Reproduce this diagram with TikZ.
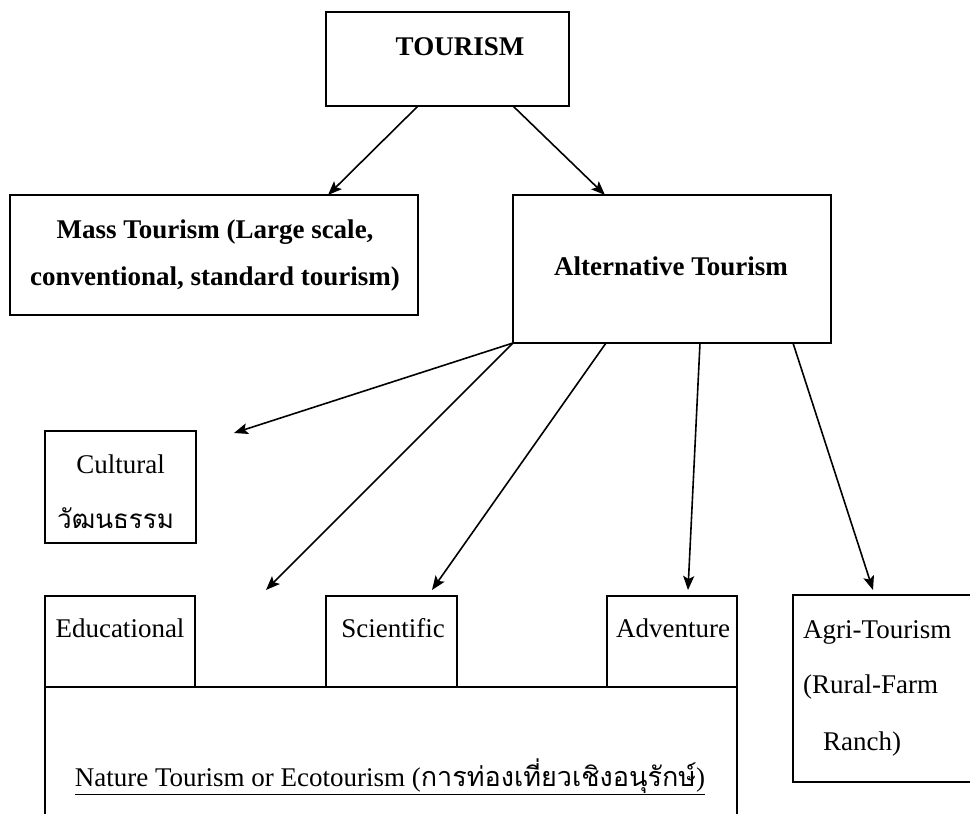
\documentclass[tikz,border=0pt]{standalone}
\usepackage{fontspec}
\setmainfont{Liberation Serif}
\newfontfamily\thaifont[Script=Thai]{Loma}
\usetikzlibrary{arrows.meta,calc}
\begin{document}
\begin{tikzpicture}[x=1pt,y=-1pt,
  box/.style={draw,line width=1.8pt,inner sep=0pt,outer sep=0pt},
  lbl/.style={inner sep=0pt,font=\fontsize{27}{30}\selectfont},
  arr/.style={line width=1.6pt,-{Stealth[length=14pt,width=11pt,inset=3pt]}}]
\useasboundingbox[fill=white] (0,0) rectangle (970,814);
% boxes
\node[box,minimum width=243pt,minimum height=94pt] (tour) at (447.5,59) {};
\node[box,minimum width=408pt,minimum height=120pt] (mass) at (214,255) {};
\node[box,minimum width=318pt,minimum height=148pt] (alt) at (672,269) {};
\node[box,minimum width=151pt,minimum height=112pt] (cult) at (120.5,487) {};
\node[box,minimum width=150pt,minimum height=91pt] (edu) at (120,641.5) {};
\node[box,minimum width=131pt,minimum height=91pt] (sci) at (391.5,641.5) {};
\node[box,minimum width=130pt,minimum height=91pt] (adv) at (672,641.5) {};
% nature box (bottom cut by the page edge)
\draw[line width=1.8pt] (45,816) -- (45,687) -- (737,687) -- (737,816);
% agri box (right side cut by the page edge)
\draw[line width=1.8pt] (972,595) -- (793,595) -- (793,782) -- (972,782);
% labels
\node[lbl,anchor=base] (tourT) at (460,55) {\textbf{TOURISM}};
\node[lbl,anchor=base] (massT1) at (215,238) {\textbf{Mass Tourism (Large scale,}};
\node[lbl,anchor=base] (massT2) at (215,285) {\textbf{conventional, standard tourism)}};
\node[lbl,anchor=base] (altT) at (671,275) {\textbf{Alternative Tourism}};
\node[lbl,anchor=base] (cultT) at (120.5,473) {Cultural};
\node[lbl,anchor=base west] (cultTh) at (57,528) {\fontsize{26}{30}\thaifont วัฒนธรรม};
\node[lbl,anchor=base] (eduT) at (120,637) {Educational};
\node[lbl,anchor=base] (sciT) at (393,637) {Scientific};
\node[lbl,anchor=base] (advT) at (673,637) {Adventure};
\node[lbl,anchor=base] (natT) at (390,786) {\underline{Nature Tourism or Ecotourism ({\thaifont การท่องเที่ยวเชิงอนุรักษ์})}};
\node[lbl,anchor=base west] (agT1) at (803,638) {Agri-Tourism};
\node[lbl,anchor=base west] (agT2) at (803,693) {(Rural-Farm};
\node[lbl,anchor=base west] (agT3) at (823,750) {Ranch)};
% arrow ends
\coordinate (cultend) at (234,433);
\coordinate (eduend) at (266,590);
\coordinate (scitip) at (432,590);
\coordinate (advtip) at (688,590);
\coordinate (agritip) at (873,590);
% arrows
\draw[arr] (tour.south -| 418,0) -- (mass.north -| 328,0);
\draw[arr] (tour.south -| 513,0) -- (alt.north -| 605,0);
\draw[arr] (alt.south west) -- (cultend);
\draw[arr] (alt.south west) -- (eduend);
\draw[arr] (alt.south -| 606,0) -- (scitip);
\draw[arr] (alt.south -| 700,0) -- (advtip);
\draw[arr] (alt.south -| 793,0) -- (agritip);
\end{tikzpicture}
\end{document}
